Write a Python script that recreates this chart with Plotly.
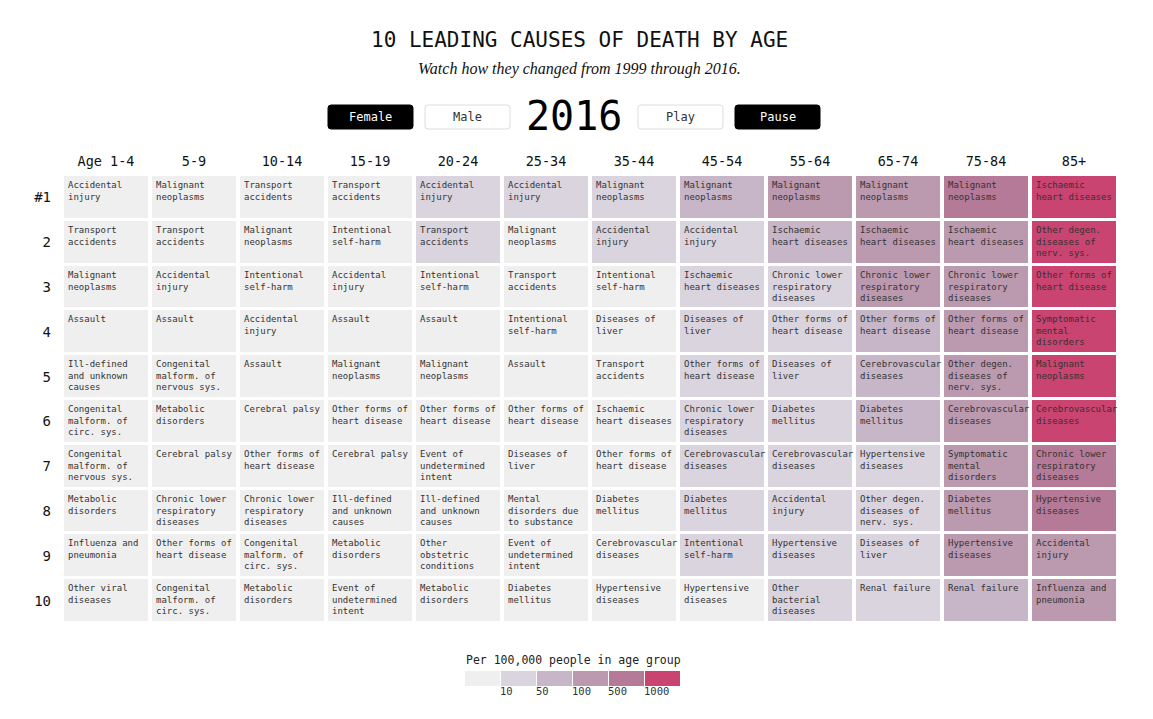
import textwrap
import numpy as np
import plotly.graph_objects as go

# Female, 2016 - ten leading causes of death per age group
age_groups = ["Age 1-4", "5-9", "10-14", "15-19", "20-24", "25-34",
              "35-44", "45-54", "55-64", "65-74", "75-84", "85+"]
rank_labels = ["#1", "2", "3", "4", "5", "6", "7", "8", "9", "10"]

causes_by_age = [
    ["Accidental injury", "Transport accidents", "Malignant neoplasms", "Assault",
     "Ill-defined and unknown causes", "Congenital malform. of circ. sys.",
     "Congenital malform. of nervous sys.", "Metabolic disorders",
     "Influenza and pneumonia", "Other viral diseases"],
    ["Malignant neoplasms", "Transport accidents", "Accidental injury", "Assault",
     "Congenital malform. of nervous sys.", "Metabolic disorders", "Cerebral palsy",
     "Chronic lower respiratory diseases", "Other forms of heart disease",
     "Congenital malform. of circ. sys."],
    ["Transport accidents", "Malignant neoplasms", "Intentional self-harm",
     "Accidental injury", "Assault", "Cerebral palsy", "Other forms of heart disease",
     "Chronic lower respiratory diseases", "Congenital malform. of circ. sys.",
     "Metabolic disorders"],
    ["Transport accidents", "Intentional self-harm", "Accidental injury", "Assault",
     "Malignant neoplasms", "Other forms of heart disease", "Cerebral palsy",
     "Ill-defined and unknown causes", "Metabolic disorders",
     "Event of undetermined intent"],
    ["Accidental injury", "Transport accidents", "Intentional self-harm", "Assault",
     "Malignant neoplasms", "Other forms of heart disease",
     "Event of undetermined intent", "Ill-defined and unknown causes",
     "Other obstetric conditions", "Metabolic disorders"],
    ["Accidental injury", "Malignant neoplasms", "Transport accidents",
     "Intentional self-harm", "Assault", "Other forms of heart disease",
     "Diseases of liver", "Mental disorders due to substance use",
     "Event of undetermined intent", "Diabetes mellitus"],
    ["Malignant neoplasms", "Accidental injury", "Intentional self-harm",
     "Diseases of liver", "Transport accidents", "Ischaemic heart diseases",
     "Other forms of heart disease", "Diabetes mellitus", "Cerebrovascular diseases",
     "Hypertensive diseases"],
    ["Malignant neoplasms", "Accidental injury", "Ischaemic heart diseases",
     "Diseases of liver", "Other forms of heart disease",
     "Chronic lower respiratory diseases", "Cerebrovascular diseases",
     "Diabetes mellitus", "Intentional self-harm", "Hypertensive diseases"],
    ["Malignant neoplasms", "Ischaemic heart diseases",
     "Chronic lower respiratory diseases", "Other forms of heart disease",
     "Diseases of liver", "Diabetes mellitus", "Cerebrovascular diseases",
     "Accidental injury", "Hypertensive diseases", "Other bacterial diseases"],
    ["Malignant neoplasms", "Ischaemic heart diseases",
     "Chronic lower respiratory diseases", "Other forms of heart disease",
     "Cerebrovascular diseases", "Diabetes mellitus", "Hypertensive diseases",
     "Other degen. diseases of nerv. sys.", "Diseases of liver", "Renal failure"],
    ["Malignant neoplasms", "Ischaemic heart diseases",
     "Chronic lower respiratory diseases", "Other forms of heart disease",
     "Other degen. diseases of nerv. sys.", "Cerebrovascular diseases",
     "Symptomatic mental disorders", "Diabetes mellitus", "Hypertensive diseases",
     "Renal failure"],
    ["Ischaemic heart diseases", "Other degen. diseases of nerv. sys.",
     "Other forms of heart disease", "Symptomatic mental disorders",
     "Malignant neoplasms", "Cerebrovascular diseases",
     "Chronic lower respiratory diseases", "Hypertensive diseases",
     "Accidental injury", "Influenza and pneumonia"],
]

# deaths per 100,000 people in age group (estimated from colour bins)
rates_by_age = [
    [6.0, 2.5, 2.0, 1.5, 1.4, 1.2, 1.0, 0.8, 0.8, 0.7],
    [2.0, 1.8, 1.3, 0.6, 0.5, 0.5, 0.4, 0.3, 0.3, 0.3],
    [2.5, 2.0, 1.8, 1.5, 0.8, 0.5, 0.5, 0.4, 0.4, 0.4],
    [8.0, 5.0, 4.0, 2.5, 2.0, 1.0, 0.5, 0.5, 0.4, 0.4],
    [20, 11, 7.0, 4.0, 3.5, 1.8, 1.5, 1.0, 0.8, 0.8],
    [27, 9.0, 8.0, 7.0, 4.0, 3.0, 2.5, 2.0, 1.8, 1.5],
    [38, 32, 8.0, 5.5, 5.0, 5.0, 4.0, 3.5, 3.5, 2.5],
    [95, 35, 22, 17, 15, 13, 12, 12, 11, 8.0],
    [240, 60, 40, 30, 25, 22, 20, 20, 13, 11],
    [420, 130, 105, 90, 75, 55, 35, 30, 22, 20],
    [800, 400, 320, 220, 200, 190, 140, 120, 110, 85],
    [2700, 2100, 1800, 1600, 1500, 1400, 900, 700, 450, 400],
]

bin_edges = [10, 50, 100, 500, 1000]
palette = ["#efefef", "#dad4df", "#c6b6c8", "#bb99af", "#b57a97", "#c94470"]

MONO = "DejaVu Sans Mono"
OFF = 8  # page body margin
W, H = 1153 - OFF, 719 - OFF
PLOT_X0, PLOT_X1, PLOT_Y0, PLOT_Y1 = 62, 1118, 175, 623   # screen pixels
L, R, T, B = PLOT_X0 - OFF, 1153 - PLOT_X1, PLOT_Y0 - OFF, 719 - PLOT_Y1
PW, PH = PLOT_X1 - PLOT_X0, PLOT_Y1 - PLOT_Y0


def px_x(px):
    return (px - PLOT_X0) / PW


def px_y(py):
    return (PLOT_Y1 - py) / PH


def note(x, y, text, size, color="#111", family=MONO, xanchor="center"):
    fig.add_annotation(x=px_x(x), y=px_y(y), xref="paper", yref="paper",
                       text=text, showarrow=False, xanchor=xanchor, yanchor="middle",
                       font=dict(family=family, size=size, color=color))


n_age = len(age_groups)
n_rank = len(rank_labels)
rates = np.array(rates_by_age).T          # rows = rank, cols = age
causes = np.array(causes_by_age, dtype=object).T
levels = np.digitize(rates, bin_edges)

fig = go.Figure()
fig.add_trace(go.Heatmap(
    z=levels,
    x=list(range(n_age)),
    y=list(range(1, n_rank + 1)),
    zmin=0, zmax=len(palette) - 1,
    colorscale=[[i / (len(palette) - 1), c] for i, c in enumerate(palette)],
    showscale=False,
    xgap=4, ygap=3,
    text=causes,
    customdata=rates,
    hovertemplate="%{text}<br>%{customdata} per 100,000<extra></extra>",
))

# cell labels, top-left aligned
for r in range(n_rank):
    for c in range(n_age):
        lines = textwrap.wrap(causes[r, c], 14, break_long_words=False,
                              break_on_hyphens=False)[:3]
        fig.add_annotation(
            x=c - 0.5, y=r + 0.5, xref="x", yref="y",
            text="<br>".join(lines), showarrow=False,
            xanchor="left", yanchor="top", align="left",
            xshift=4, yshift=-3,
            font=dict(family=MONO, size=9, color="#333"),
        )

# title and subtitle
note(579, 40, "10 LEADING CAUSES OF DEATH BY AGE", 21)
note(579, 69, "<i>Watch how they changed from 1999 through 2016.</i>", 16,
     family="Liberation Serif")

# control buttons (static)
buttons = [("Female", 328, 413, True), ("Male", 425, 510, False),
           ("Play", 638, 723, False), ("Pause", 735, 820, True)]
for label, x0, x1, dark in buttons:
    y0, y1, rad = 105, 129, 3
    ax0, ax1 = px_x(x0), px_x(x1)
    ay0, ay1 = px_y(y1), px_y(y0)
    rx, ry = rad / PW, rad / PH
    path = (f"M{ax0 + rx},{ay0} L{ax1 - rx},{ay0} Q{ax1},{ay0} {ax1},{ay0 + ry} "
            f"L{ax1},{ay1 - ry} Q{ax1},{ay1} {ax1 - rx},{ay1} L{ax0 + rx},{ay1} "
            f"Q{ax0},{ay1} {ax0},{ay1 - ry} L{ax0},{ay0 + ry} Q{ax0},{ay0} {ax0 + rx},{ay0} Z")
    fig.add_shape(type="path", path=path, xref="paper", yref="paper",
                  fillcolor="#000" if dark else "#fff",
                  line=dict(color="#000" if dark else "#ddd", width=1))
    note((x0 + x1) / 2, 117, label, 12, color="#fff" if dark else "#333")

note(574, 116, "2016", 40, color="#000")

# colour legend
note(573, 660, "Per 100,000 people in age group", 11.5, color="#222")
sw_x0, sw_w = 465, 36
for i, col in enumerate(palette):
    fig.add_shape(type="rect", xref="paper", yref="paper",
                  x0=px_x(sw_x0 + i * sw_w), x1=px_x(sw_x0 + (i + 1) * sw_w - 1),
                  y0=px_y(686), y1=px_y(671),
                  fillcolor=col, line=dict(width=0))
for i, edge in enumerate(bin_edges):
    note(sw_x0 + (i + 1) * sw_w - 3, 691, str(edge), 10.5, color="#333",
         xanchor="left")

fig.update_layout(
    width=W, height=H,
    margin=dict(l=L, r=R, t=T, b=B),
    paper_bgcolor="white", plot_bgcolor="white",
    xaxis=dict(side="top", range=[-0.5, n_age - 0.5], tickvals=list(range(n_age)),
               ticktext=age_groups, showgrid=False, zeroline=False, ticks="",
               ticklabelstandoff=5,
               tickfont=dict(family=MONO, size=13.5, color="#111")),
    yaxis=dict(range=[n_rank + 0.5, 0.5], tickvals=list(range(1, n_rank + 1)),
               ticktext=rank_labels, showgrid=False, zeroline=False, ticks="",
               ticklabelstandoff=10,
               tickfont=dict(family=MONO, size=14, color="#111")),
    showlegend=False,
)

fig.write_html("out.html")
